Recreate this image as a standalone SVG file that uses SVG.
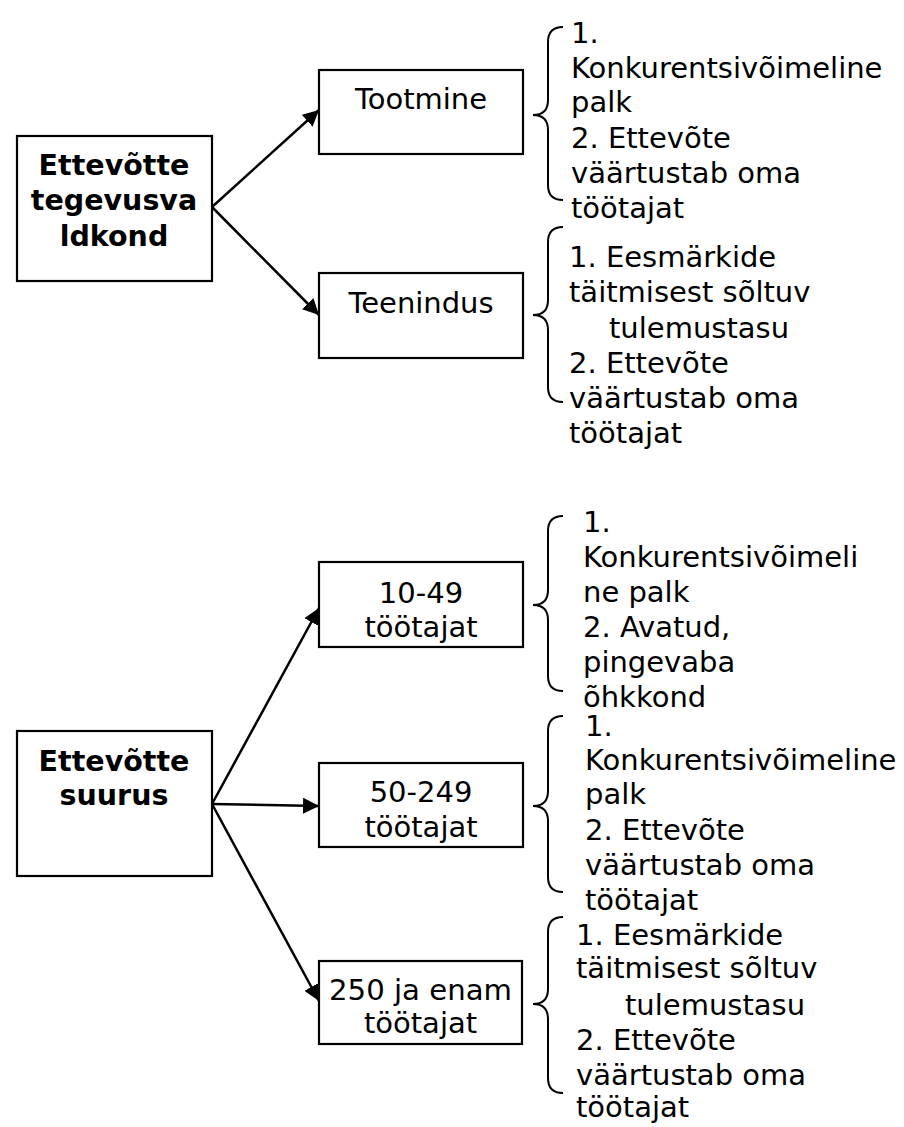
<svg xmlns="http://www.w3.org/2000/svg" width="904" height="1127" viewBox="0 0 904 1127">
<style>
text{font-family:"DejaVu Sans","Verdana",sans-serif;font-size:29px;fill:#000}
.b{font-weight:bold;font-size:28.5px}
.c{text-anchor:middle}
rect{fill:#fff;stroke:#000;stroke-width:2.2}
.br{fill:none;stroke:#000;stroke-width:2}
.ar{stroke:#000;stroke-width:2.5;fill:none;marker-end:url(#ah)}
</style>
<defs>
<marker id="ah" markerUnits="userSpaceOnUse" markerWidth="18" markerHeight="16" refX="16" refY="8" orient="auto">
<path d="M0,0 L16,8 L0,16 z" fill="#000"/>
</marker>
</defs>
<g id="connectors">
<line class="ar" x1="212" y1="207" x2="319" y2="110"/>
<line class="ar" x1="212" y1="207" x2="319" y2="315"/>
<line class="ar" x1="212" y1="804" x2="319" y2="608"/>
<line class="ar" x1="212" y1="804" x2="319" y2="806"/>
<line class="ar" x1="212" y1="804" x2="319" y2="1001"/>
</g>
<g id="n-tegevus">
<rect x="17" y="136" width="195" height="145"/>
<text class="b c" x="114" y="175">Ettevõtte</text>
<text class="b c" x="114" y="210">tegevusva</text>
<text class="b c" x="114" y="246">ldkond</text>
</g>
<g id="n-tootmine">
<rect x="319" y="70" width="204" height="84"/>
<text class="c" x="421" y="109">Tootmine</text>
</g>
<g id="n-teenindus">
<rect x="319" y="273" width="204" height="85"/>
<text class="c" x="421" y="313">Teenindus</text>
</g>
<g id="n-b1">
<path class="br" d="M563,27 Q548,27 548,42 L548,100 Q548,115 533,115 Q548,115 548,130 L548,185 Q548,200 563,200"/>
<text x="571" y="43">1.</text>
<text x="571" y="78">Konkurentsivõimeline</text>
<text x="571" y="112">palk</text>
<text x="571" y="148">2. Ettevõte</text>
<text x="571" y="183">väärtustab oma</text>
<text x="571" y="218">töötajat</text>
</g>
<g id="n-b2">
<path class="br" d="M563,227 Q548,227 548,242 L548,300 Q548,315 533,315 Q548,315 548,330 L548,387 Q548,402 563,402"/>
<text x="569" y="267">1. Eesmärkide</text>
<text x="569" y="302">täitmisest sõltuv</text>
<text x="609" y="338">tulemustasu</text>
<text x="569" y="373">2. Ettevõte</text>
<text x="569" y="408">väärtustab oma</text>
<text x="569" y="443">töötajat</text>
</g>
<g id="n-suurus">
<rect x="17" y="731" width="195" height="145"/>
<text class="b c" x="114" y="771">Ettevõtte</text>
<text class="b c" x="114" y="805">suurus</text>
</g>
<g id="n-10-49">
<rect x="319" y="562" width="204" height="85"/>
<text class="c" x="421" y="603">10-49</text>
<text class="c" x="421" y="637">töötajat</text>
</g>
<g id="n-50-249">
<rect x="319" y="763" width="204" height="84"/>
<text class="c" x="421" y="802">50-249</text>
<text class="c" x="421" y="837">töötajat</text>
</g>
<g id="n-250">
<rect x="319" y="961" width="203" height="83"/>
<text class="c" x="420.5" y="1000" textLength="183" lengthAdjust="spacingAndGlyphs">250 ja enam</text>
<text class="c" x="420.5" y="1033">töötajat</text>
</g>
<g id="n-b3">
<path class="br" d="M563,516 Q548,516 548,531 L548,590 Q548,605 533,605 Q548,605 548,620 L548,676 Q548,691 563,691"/>
<text x="583" y="532">1.</text>
<text x="583" y="567">Konkurentsivõimeli</text>
<text x="583" y="602">ne palk</text>
<text x="583" y="637">2. Avatud,</text>
<text x="583" y="672">pingevaba</text>
<text x="583" y="707">õhkkond</text>
</g>
<g id="n-b4">
<path class="br" d="M563,716 Q548,716 548,731 L548,791 Q548,806 533,806 Q548,806 548,821 L548,877 Q548,892 563,892"/>
<text x="585" y="736">1.</text>
<text x="585" y="770">Konkurentsivõimeline</text>
<text x="585" y="804">palk</text>
<text x="585" y="840">2. Ettevõte</text>
<text x="585" y="875">väärtustab oma</text>
<text x="585" y="910">töötajat</text>
</g>
<g id="n-b5">
<path class="br" d="M563,917 Q548,917 548,932 L548,989 Q548,1004 533,1004 Q548,1004 548,1019 L548,1078 Q548,1093 563,1093"/>
<text x="576" y="945">1. Eesmärkide</text>
<text x="576" y="978">täitmisest sõltuv</text>
<text x="625" y="1015">tulemustasu</text>
<text x="576" y="1050">2. Ettevõte</text>
<text x="576" y="1085">väärtustab oma</text>
<text x="576" y="1117">töötajat</text>
</g>
</svg>
